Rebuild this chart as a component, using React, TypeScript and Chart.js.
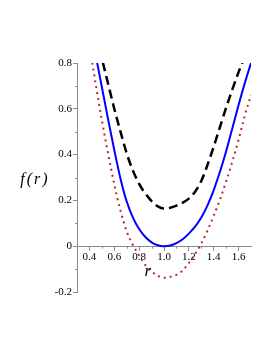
import { useEffect, useRef } from "react";
import { Chart, registerables } from "chart.js";

Chart.register(...registerables);

const rValues = [0.40, 0.45, 0.50, 0.55, 0.60, 0.65, 0.70, 0.75, 0.80, 0.85, 0.90, 0.95, 1.00,
  1.05, 1.10, 1.15, 1.20, 1.25, 1.30, 1.35, 1.40, 1.45, 1.50, 1.55, 1.60, 1.65, 1.70];

const solidCurve = [0.98, 0.835, 0.695, 0.555, 0.42, 0.295, 0.195, 0.125, 0.075, 0.04, 0.017, 0.004, 0,
  0.003, 0.013, 0.03, 0.055, 0.085, 0.125, 0.178, 0.245, 0.325, 0.415, 0.515, 0.617, 0.712, 0.80];

const dashedCurve = [1.04, 0.93, 0.82, 0.71, 0.60, 0.50, 0.405, 0.33, 0.272, 0.23, 0.197, 0.174, 0.165,
  0.168, 0.177, 0.19, 0.208, 0.238, 0.285, 0.355, 0.435, 0.52, 0.605, 0.685, 0.76, 0.83, 0.90];

const dottedCurve = [0.88, 0.71, 0.55, 0.405, 0.27, 0.155, 0.065, 0.005, -0.04, -0.083, -0.111, -0.129, -0.138,
  -0.134, -0.125, -0.106, -0.073, -0.034, 0.012, 0.068, 0.133, 0.203, 0.283, 0.37, 0.465, 0.57, 0.66];

const xTicks = [0.4, 0.6, 0.8, 1.0, 1.2, 1.4, 1.6];
const xMinorTicks = [0.5, 0.7, 0.9, 1.1, 1.3, 1.5];
const yTicks = [-0.2, 0, 0.2, 0.4, 0.6, 0.8];
const yMinorTicks = [-0.1, 0.1, 0.3, 0.5, 0.7];

const xTitle = "r";
const yTitle = "f(r)";

const AXIS_COLOR = "#8c8c8c";
const FONT = "'Liberation Serif', 'Times New Roman', serif";

const extrasPlugin = {
  id: "extras",
  afterDraw(chart: any) {
    const ctx = chart.ctx;
    const xs = chart.scales.x;
    const ys = chart.scales.y;
    const area = chart.chartArea;
    const y0 = ys.getPixelForValue(0);
    ctx.save();
    ctx.strokeStyle = AXIS_COLOR;
    ctx.lineWidth = 1;
    ctx.beginPath();
    for (const v of yMinorTicks) {
      const py = Math.round(ys.getPixelForValue(v)) + 0.5;
      ctx.moveTo(area.left - 2, py);
      ctx.lineTo(area.left, py);
    }
    for (const v of xMinorTicks) {
      const px = Math.round(xs.getPixelForValue(v)) + 0.5;
      ctx.moveTo(px, y0);
      ctx.lineTo(px, y0 + 2.5);
    }
    ctx.stroke();

    ctx.fillStyle = "#000";
    ctx.textAlign = "center";
    ctx.textBaseline = "middle";
    ctx.font = `italic 16px ${FONT}`;
    (ctx as any).letterSpacing = "2px";
    ctx.fillText(yTitle, area.left - 42, ys.getPixelForValue(0.29));
    (ctx as any).letterSpacing = "0px";
    ctx.font = `italic 17px ${FONT}`;
    ctx.fillText(xTitle, xs.getPixelForValue(0.87), y0 + 25);
    ctx.restore();
  },
};

export default function App() {
  const ref = useRef<HTMLCanvasElement>(null);
  useEffect(() => {
    const toPts = (vals: number[]) => rValues.map((r, i) => ({ x: r, y: vals[i] }));
    const chart = new Chart(ref.current as HTMLCanvasElement, {
      type: "line",
      data: {
        datasets: [
          {
            data: toPts(dottedCurve),
            borderColor: "#b22b2b",
            borderWidth: 2,
            borderDash: [2, 4],
            pointRadius: 0,
            cubicInterpolationMode: "monotone",
            fill: false,
          },
          {
            data: toPts(solidCurve),
            borderColor: "#0000ff",
            borderWidth: 2,
            pointRadius: 0,
            cubicInterpolationMode: "monotone",
            fill: false,
          },
          {
            data: toPts(dashedCurve),
            borderColor: "#000000",
            borderWidth: 2.5,
            borderDash: [9, 5],
            pointRadius: 0,
            cubicInterpolationMode: "monotone",
            fill: false,
          },
        ],
      },
      options: {
        animation: false,
        responsive: false,
        maintainAspectRatio: false,
        layout: { padding: { left: 0, top: 63, right: 22, bottom: 61 } },
        plugins: { legend: { display: false }, tooltip: { enabled: false }, title: { display: false } },
        scales: {
          x: {
            type: "linear",
            min: 0.3,
            max: 1.7,
            position: { y: 0 } as any,
            afterBuildTicks: (s: any) => { s.ticks = xTicks.map((v) => ({ value: v })); },
            ticks: {
              color: "#000",
              font: { family: FONT, size: 11 },
              padding: 0,
              maxRotation: 0,
              autoSkip: false,
              callback: (v: any) => Number(v).toFixed(1),
            },
            grid: { display: true, drawOnChartArea: false, drawTicks: true, tickLength: 4, color: AXIS_COLOR },
            border: { display: true, color: AXIS_COLOR, width: 1 },
          },
          y: {
            type: "linear",
            min: -0.2,
            max: 0.8,
            position: "left",
            afterFit: (s: any) => { s.width = 77; },
            afterBuildTicks: (s: any) => { s.ticks = yTicks.map((v) => ({ value: v })); },
            ticks: {
              color: "#000",
              font: { family: FONT, size: 11 },
              padding: 1,
              autoSkip: false,
              callback: (v: any) => (Number(v) === 0 ? "0" : Number(v).toFixed(1)),
            },
            grid: { display: true, drawOnChartArea: false, drawTicks: true, tickLength: 4, color: AXIS_COLOR },
            border: { display: true, color: AXIS_COLOR, width: 1 },
          },
        },
      },
      plugins: [extrasPlugin],
    });
    return () => chart.destroy();
  }, []);
  return (
    <div style={{ position: "fixed", left: 0, top: 0, width: 273, height: 353, background: "#fff" }}>
      <canvas ref={ref} width={273} height={353} style={{ display: "block", width: 273, height: 353 }} />
    </div>
  );
}
